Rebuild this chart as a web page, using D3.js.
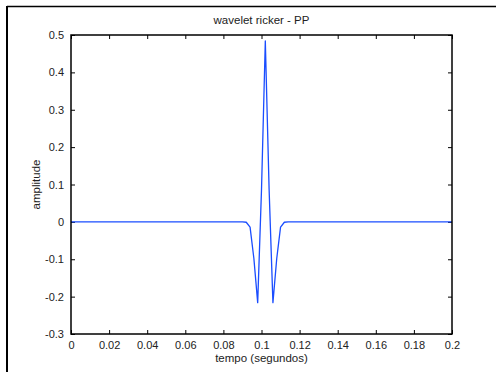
<!DOCTYPE html>
<html><head><meta charset="utf-8">
<script src="https://cdn.jsdelivr.net/npm/d3@7"></script>
<style>html,body{margin:0;padding:0;background:#fff;}svg{display:block;}</style>
</head><body>
<script>
const title = "wavelet ricker - PP";
const xLabel = "tempo (segundos)";
const yLabel = "amplitude";
const xTicks = [0,0.02,0.04,0.06,0.08,0.1,0.12,0.14,0.16,0.18,0.2];
const yTicks = [-0.3,-0.2,-0.1,0,0.1,0.2,0.3,0.4,0.5];
const times = [0, 0.090, 0.092, 0.094, 0.096, 0.098, 0.100, 0.102, 0.104, 0.106, 0.108, 0.110, 0.112, 0.114, 0.2];
const amps  = [0, 0, -0.001, -0.014, -0.098, -0.216, 0.086, 0.484, 0.086, -0.216, -0.098, -0.014, -0.001, 0, 0];

const W = 496, H = 372;
const L = 71, R = 452, T = 35, B = 334;
const svg = d3.select("body").append("svg").attr("width", W).attr("height", H);
const font = "Liberation Sans, Arial, sans-serif";

// outer frame (left and top)
svg.append("line").attr("x1",7).attr("y1",6.5).attr("x2",W).attr("y2",6.5).attr("stroke","#000").attr("stroke-width",1.5);
svg.append("line").attr("x1",7).attr("y1",6).attr("x2",7).attr("y2",H).attr("stroke","#000").attr("stroke-width",2);

const x = d3.scaleLinear().domain([0,0.2]).range([L,R]);
const y = d3.scaleLinear().domain([-0.3,0.5]).range([B,T]);

const fmt = d => (Math.round(d*100)/100).toString();
const tl = 4;
const gb = svg.append("g").attr("transform",`translate(0,${B})`)
  .call(d3.axisBottom(x).tickValues(xTicks).tickFormat(fmt).tickSizeInner(-tl).tickSizeOuter(0).tickPadding(7));
const gt = svg.append("g").attr("transform",`translate(0,${T})`)
  .call(d3.axisTop(x).tickValues(xTicks).tickFormat("").tickSizeInner(-tl).tickSizeOuter(0));
const gl = svg.append("g").attr("transform",`translate(${L},0)`)
  .call(d3.axisLeft(y).tickValues(yTicks).tickFormat(fmt).tickSizeInner(-tl).tickSizeOuter(0).tickPadding(7));
const gr = svg.append("g").attr("transform",`translate(${R},0)`)
  .call(d3.axisRight(y).tickValues(yTicks).tickFormat("").tickSizeInner(-tl).tickSizeOuter(0));

[gb,gt,gl,gr].forEach(g=>{
  g.selectAll(".domain").remove();
  g.selectAll("line").attr("stroke","#000").attr("stroke-width",1);
  g.selectAll("text").attr("font-family",font).attr("font-size",11).attr("fill","#222");
});

const line = d3.line().x((d,i)=>x(times[i])).y(d=>y(d));
svg.append("path").datum(amps).attr("d",line).attr("fill","none")
  .attr("stroke","#1a4dff").attr("stroke-width",1.3).attr("stroke-linejoin","round");

svg.append("rect").attr("x",L).attr("y",T).attr("width",R-L).attr("height",B-T)
  .attr("fill","none").attr("stroke","#000").attr("stroke-width",1.5);

svg.append("text").attr("x",(L+R)/2).attr("y",24).attr("text-anchor","middle")
  .attr("font-family",font).attr("font-size",11.5).attr("fill","#222").text(title);
svg.append("text").attr("x",(L+R)/2).attr("y",362).attr("text-anchor","middle")
  .attr("font-family",font).attr("font-size",11.5).attr("fill","#222").text(xLabel);
svg.append("text").attr("transform",`translate(40,${(T+B)/2}) rotate(-90)`).attr("text-anchor","middle")
  .attr("font-family",font).attr("font-size",11.5).attr("fill","#222").text(yLabel);
</script>
</body></html>
